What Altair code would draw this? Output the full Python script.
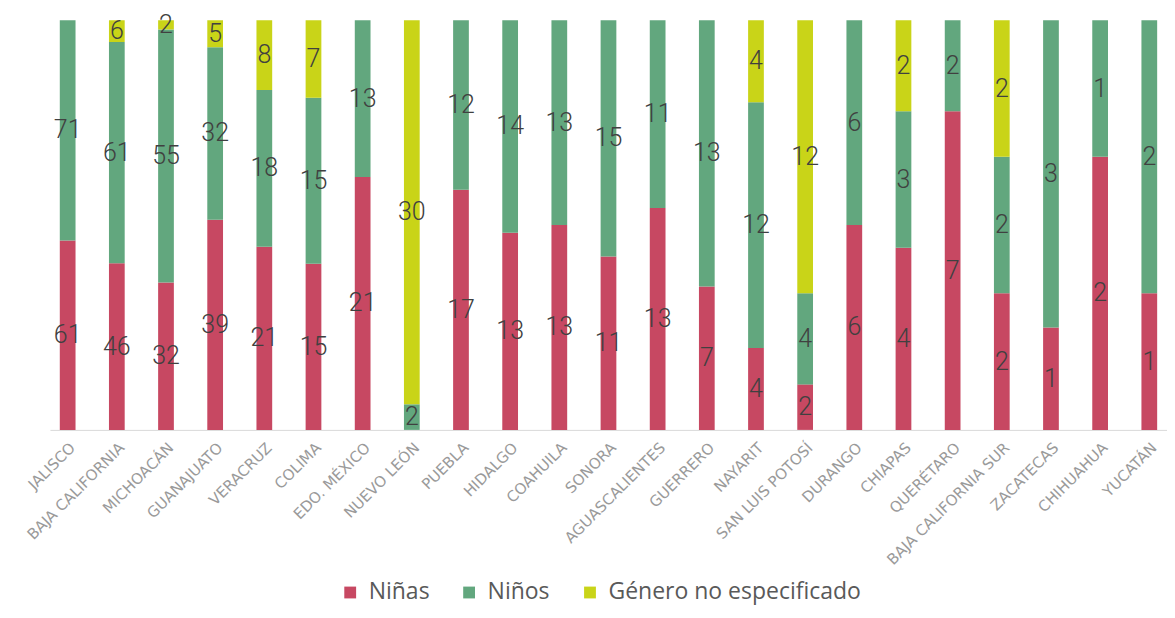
import altair as alt
import pandas as pd

states = ["JALISCO", "BAJA CALIFORNIA", "MICHOACÁN", "GUANAJUATO", "VERACRUZ", "COLIMA",
          "EDO. MÉXICO", "NUEVO LEÓN", "PUEBLA", "HIDALGO", "COAHUILA", "SONORA",
          "AGUASCALIENTES", "GUERRERO", "NAYARIT", "SAN LUIS POTOSÍ", "DURANGO", "CHIAPAS",
          "QUERÉTARO", "BAJA CALIFORNIA SUR", "ZACATECAS", "CHIHUAHUA", "YUCATÁN"]
ninas = [61, 46, 32, 39, 21, 15, 21, 0, 17, 13, 13, 11, 13, 7, 4, 2, 6, 4, 7, 2, 1, 2, 1]
ninos = [71, 61, 55, 32, 18, 15, 13, 2, 12, 14, 13, 15, 11, 13, 12, 4, 6, 3, 2, 2, 3, 1, 2]
no_esp = [0, 6, 2, 5, 8, 7, 0, 30, 0, 0, 0, 0, 0, 0, 4, 12, 0, 2, 0, 2, 0, 0, 0]

cats = ["Niñas", "Niños", "Género no especificado"]
colors = ["#C74862", "#62A77E", "#C9D418"]

rows = []
for i, s in enumerate(states):
    for o, (cat, vals) in enumerate(zip(cats, [ninas, ninos, no_esp])):
        if vals[i] > 0:
            rows.append({"estado": s, "cat": cat, "v": vals[i], "o": o})
df = pd.DataFrame(rows)

base = (
    alt.Chart(df)
    .transform_joinaggregate(total="sum(v)", groupby=["estado"])
    .transform_window(cum="sum(v)", sort=[alt.SortField("o")], groupby=["estado"], frame=[None, 0])
    .transform_calculate(
        y0="(datum.cum - datum.v) / datum.total",
        y1="datum.cum / datum.total",
        ym="(datum.cum - datum.v / 2) / datum.total",
    )
)

xenc = alt.X(
    "estado:N",
    sort=states,
    title=None,
    scale=alt.Scale(paddingInner=0.68, paddingOuter=0.2),
    axis=alt.Axis(
        labelAngle=-45,
        labelFont="DejaVu Sans",
        labelFontSize=15,
        labelColor="#9A9A9A",
        labelPadding=10,
        labelLimit=300,
        ticks=False,
        domainColor="#D9D9D9",
        domainWidth=1,
        grid=False,
    ),
)

bars = base.mark_bar().encode(
    x=xenc,
    y=alt.Y("y0:Q", scale=alt.Scale(domain=[0, 1]), axis=None),
    y2="y1:Q",
    color=alt.Color(
        "cat:N",
        scale=alt.Scale(domain=cats, range=colors),
        sort=cats,
        legend=alt.Legend(
            title=None,
            orient="none",
            direction="horizontal",
            legendX=289,
            legendY=561,
            symbolType="square",
            symbolSize=140,
            symbolStrokeWidth=0,
            labelFont="Open Sans",
            labelFontSize=23,
            labelColor="#595959",
            labelLimit=400,
            columnPadding=28,
            labelOffset=7,
        ),
    ),
)

labels = base.mark_text(
    font="Roboto",
    fontWeight=300,
    fontSize=25,
    color="#404040",
    baseline="middle",
    align="center",
).encode(
    x=alt.X("estado:N", sort=states),
    y=alt.Y("ym:Q", scale=alt.Scale(domain=[0, 1])),
    text="v:Q",
)

chart = (
    alt.layer(bars, labels)
    .properties(
        width=1118,
        height=410,
        autosize="none",
        padding={"left": 42, "top": 12, "right": 0, "bottom": 180},
        background="white",
    )
    .configure_view(stroke=None)
)

chart.save("out.html", embed_options={"renderer": "svg", "actions": False})
